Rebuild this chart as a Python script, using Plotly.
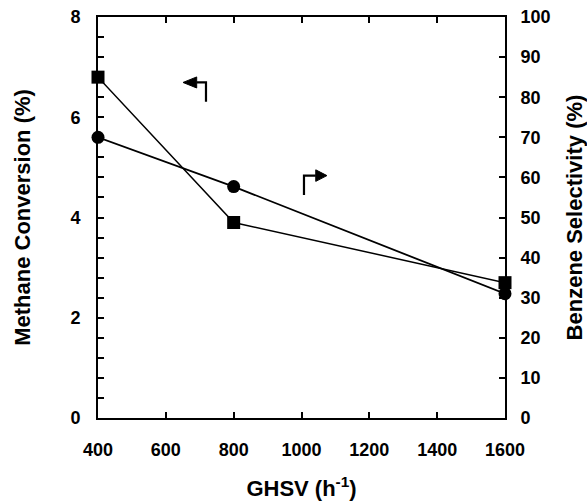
import plotly.graph_objects as go

ghsv = [400, 800, 1600]
methane_conversion = [6.8, 3.9, 2.7]
benzene_selectivity = [70, 57.7, 31]
x_ticks = [400, 600, 800, 1000, 1200, 1400, 1600]
x_tick_labels = ["400", "600", "800", "1000", "1200", "1400", "1600"]

FONT = "Arial, Liberation Sans, sans-serif"

fig = go.Figure()
fig.add_trace(go.Scatter(
    x=ghsv, y=methane_conversion, mode="lines+markers",
    line=dict(color="black", width=1.5),
    marker=dict(symbol="square", size=13, color="black"),
    cliponaxis=False, showlegend=False, yaxis="y"))
fig.add_trace(go.Scatter(
    x=ghsv, y=benzene_selectivity, mode="lines+markers",
    line=dict(color="black", width=1.8),
    marker=dict(symbol="circle", size=13, color="black"),
    cliponaxis=False, showlegend=False, yaxis="y2"))

# decorative arrows indicating axis
fig.add_shape(type="path", xref="x", yref="y",
              path="M 718.4,6.31 L 718.4,6.694 L 691,6.694",
              line=dict(color="black", width=2.2))
fig.add_shape(type="path", xref="x", yref="y",
              path="M 650.6,6.694 L 691,6.804 L 691,6.584 Z",
              fillcolor="black", line=dict(color="black", width=1))
fig.add_shape(type="path", xref="x", yref="y",
              path="M 1007.3,4.451 L 1007.3,4.836 L 1042,4.836",
              line=dict(color="black", width=2.2))
fig.add_shape(type="path", xref="x", yref="y",
              path="M 1075,4.836 L 1042,4.951 L 1042,4.721 Z",
              fillcolor="black", line=dict(color="black", width=1))

tickfont = dict(family=FONT, size=18, color="black")
axis_common = dict(showline=True, linecolor="black", linewidth=2,
                   ticks="inside", ticklen=6, tickwidth=1.5, tickcolor="black",
                   showgrid=False, zeroline=False,
                   tickfont=tickfont)

fig.update_layout(
    width=587, height=501,
    margin=dict(l=98, r=82, t=17, b=83, autoexpand=False),
    paper_bgcolor="white", plot_bgcolor="white",
    font=dict(family=FONT, color="black"),
    hovermode=False,
    xaxis=dict(range=[400, 1600], tickvals=x_ticks,
               ticktext=["<b>" + t + "</b>" for t in x_tick_labels],
               mirror="ticks", ticklabelstandoff=14,
               title=dict(text="<b>GHSV (h<sup>-1</sup>)</b>",
                          font=dict(family=FONT, size=22), standoff=22),
               **axis_common),
    yaxis=dict(range=[0, 8], dtick=2, ticklabelstandoff=12,
               tickprefix="<b>", ticksuffix="</b>",
               minor=dict(dtick=0.4, ticks="inside", ticklen=6, tickwidth=1.5, tickcolor="black"),
               title=dict(text="<b>Methane Conversion (%)</b>",
                          font=dict(family=FONT, size=22), standoff=34),
               **axis_common),
    yaxis2=dict(range=[0, 100], dtick=10, overlaying="y", side="right",
                ticklabelstandoff=10,
                tickprefix="<b>", ticksuffix="</b>",
                title=dict(text="<b>Benzene Selectivity (%)</b>",
                           font=dict(family=FONT, size=22), standoff=17),
                **axis_common),
)

fig.write_html("out.html", config={"displayModeBar": False},
               post_script="document.body.style.margin='0';")
